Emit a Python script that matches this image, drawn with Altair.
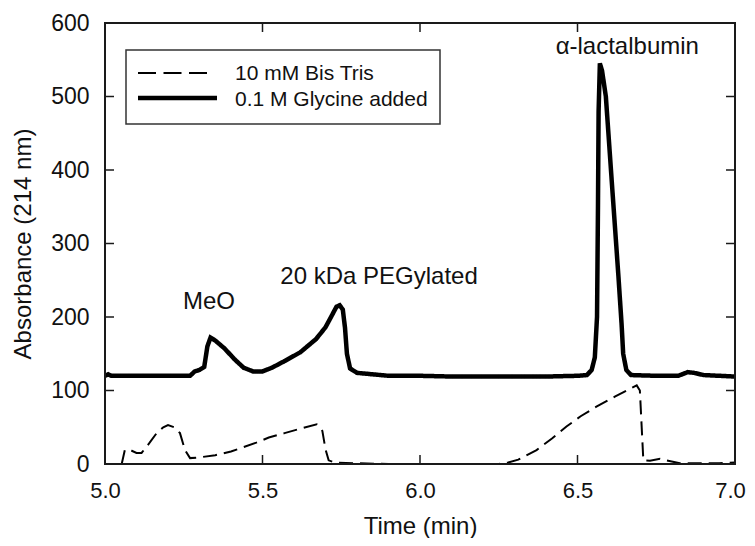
import altair as alt
import pandas as pd

# Solid line: 0.1 M Glycine added
gly_t = [5.00, 5.01, 5.02, 5.10, 5.20, 5.27, 5.285, 5.30, 5.315, 5.325, 5.335, 5.35, 5.38, 5.41, 5.44, 5.47,
         5.50, 5.53, 5.57, 5.62, 5.67, 5.70, 5.72, 5.735, 5.745, 5.755, 5.762, 5.768, 5.778, 5.80, 5.85, 5.90,
         6.00, 6.10, 6.20, 6.30, 6.40, 6.50, 6.53, 6.545, 6.555, 6.562, 6.565, 6.567, 6.571, 6.578, 6.59,
         6.61, 6.63, 6.64, 6.645, 6.655, 6.67, 6.75, 6.82, 6.85, 6.87, 6.90, 6.95, 7.00]
gly_v = [120, 122, 120, 120, 120, 120, 126, 128, 132, 160, 172, 168, 157, 143, 131, 126,
         126, 131, 140, 152, 170, 186, 202, 214, 216, 210, 185, 150, 130, 124, 122, 120,
         120, 119, 119, 119, 119, 120, 121, 128, 145, 200, 350, 480, 545, 535, 500,
         377, 255, 190, 150, 128, 121, 120, 120, 125, 124, 121, 120, 119]

# Dashed line: 10 mM Bis Tris
bis_t = [5.053, 5.063, 5.07, 5.085, 5.10, 5.116, 5.14, 5.164, 5.185, 5.20, 5.22, 5.238, 5.254, 5.27, 5.30,
         5.35, 5.40, 5.44, 5.48, 5.52, 5.57, 5.62, 5.672, 5.69, 5.70, 5.71, 5.73, 5.80, 5.90, 6.00, 6.10,
         6.20, 6.25, 6.28, 6.312, 6.37, 6.42, 6.465, 6.51, 6.56, 6.62, 6.688, 6.698, 6.709, 6.73, 6.762,
         6.78, 6.825, 6.90, 6.95, 7.00]
bis_v = [0, 19, 20, 18, 15, 15, 28, 42, 50, 53, 50, 42, 19, 8, 9,
         12, 17, 23, 29, 36, 42, 48, 54, 45, 20, 5, 2, 1, 0, 0, 0,
         0, 0, 2, 6, 19, 35, 51, 65, 78, 92, 107, 100, 5, 4.5, 7,
         5, 1, 1, 1, 2]

series_names = ["10 mM Bis Tris", "0.1 M Glycine added"]

X_MIN, X_MAX = 5.0, 7.0
Y_MIN, Y_MAX = 0, 600
x_labels = [5.0, 5.5, 6.0, 6.5, 7.0]
y_labels = [0, 100, 200, 300, 400, 500, 600]
x_ticks = [5.5, 6.0, 6.5]
y_ticks = [100, 200, 300, 400, 500]

ann_text = ["MeO", "20 kDa PEGylated", "α-lactalbumin"]
ann_t = [5.33, 5.87, 6.658]
ann_v = [221, 254, 567]

df = pd.concat([
    pd.DataFrame({"t": bis_t, "v": bis_v, "series": series_names[0], "o": range(len(bis_t))}),
    pd.DataFrame({"t": gly_t, "v": gly_v, "series": series_names[1], "o": range(len(gly_t))}),
])

FONT = "Liberation Sans"
INK = "#111"
EDGE = "#1a1a1a"
W, H = 630, 441
DASH = [14, 7]
PX_X = (X_MAX - X_MIN) / W   # one pixel in data units
PX_Y = (Y_MAX - Y_MIN) / H
TL = 9        # tick length, px
LW = 2        # frame / tick thickness, px

# frame edges and inward ticks as thin filled rectangles, in data units
seg_x0, seg_x1, seg_y0, seg_y1 = [], [], [], []
def seg(x0, x1, y0, y1):
    seg_x0.append(x0); seg_x1.append(x1); seg_y0.append(y0); seg_y1.append(y1)

hx, hy = LW / 2 * PX_X, LW / 2 * PX_Y
seg(X_MIN - hx, X_MAX + hx, Y_MAX - hy, Y_MAX + hy)   # top
seg(X_MIN - hx, X_MAX + hx, Y_MIN - hy, Y_MIN + hy)   # bottom
seg(X_MIN - hx, X_MIN + hx, Y_MIN - hy, Y_MAX + hy)   # left
seg(X_MAX - hx, X_MAX + hx, Y_MIN - hy, Y_MAX + hy)   # right
for t in x_ticks:
    seg(t - 0.75 * PX_X, t + 0.75 * PX_X, Y_MIN, Y_MIN + TL * PX_Y)
    seg(t - 0.75 * PX_X, t + 0.75 * PX_X, Y_MAX - TL * PX_Y, Y_MAX)
for v in y_ticks:
    seg(X_MIN, X_MIN + TL * PX_X, v - 0.75 * PX_Y, v + 0.75 * PX_Y)
    seg(X_MAX - TL * PX_X, X_MAX, v - 0.75 * PX_Y, v + 0.75 * PX_Y)
segs = pd.DataFrame({"x0": seg_x0, "x1": seg_x1, "y0": seg_y0, "y1": seg_y1})

xs = alt.Scale(domain=[X_MIN, X_MAX], nice=False, zero=False)
ys = alt.Scale(domain=[Y_MIN, Y_MAX], nice=False)

lines = alt.Chart(df).mark_line(color="black").encode(
    x=alt.X("t:Q", scale=xs, title="Time (min)",
            axis=alt.Axis(values=x_labels, format=".1f", ticks=False, domain=False, grid=False,
                          labelFlush=False, labelPadding=16, titlePadding=13, labelFontSize=22,
                          labelOffset=alt.expr("datum.value == 7 ? -5 : 0"))),
    y=alt.Y("v:Q", scale=ys, title="Absorbance (214 nm)",
            axis=alt.Axis(values=y_labels, ticks=False, domain=False, grid=False,
                          labelFlush=False, labelPadding=16, titlePadding=15)),
    order="o:Q",
    strokeDash=alt.StrokeDash("series:N",
                              scale=alt.Scale(domain=series_names, range=[DASH, [1, 0]]),
                              legend=None),
    strokeWidth=alt.StrokeWidth("series:N",
                                scale=alt.Scale(domain=series_names, range=[2, 4.5]),
                                legend=None),
)

frame = alt.Chart(segs).mark_rect(color=EDGE, opacity=1).encode(
    x=alt.X("x0:Q", scale=xs), x2="x1:Q",
    y=alt.Y("y0:Q", scale=ys), y2="y1:Q")

ann = alt.Chart(pd.DataFrame({"label": ann_text, "t": ann_t, "v": ann_v})).mark_text(
    font=FONT, fontSize=24, color=INK, align="center", baseline="middle").encode(
    x=alt.X("t:Q", scale=xs), y=alt.Y("v:Q", scale=ys), text="label:N")

one = pd.DataFrame({"k": [0]})
leg_box = alt.Chart(one).mark_rect(fill="white", stroke="#333", strokeWidth=1.5).encode(
    x=alt.value(21), x2=alt.value(335), y=alt.value(27), y2=alt.value(101))
leg_dash = alt.Chart(one).mark_rule(color="black", strokeWidth=2, strokeDash=[18, 7.5]).encode(
    x=alt.value(33), x2=alt.value(103), y=alt.value(50))
leg_solid = alt.Chart(one).mark_rule(color="black", strokeWidth=4.5).encode(
    x=alt.value(33), x2=alt.value(112), y=alt.value(75))
leg_text1 = alt.Chart(pd.DataFrame({"label": [series_names[0]]})).mark_text(
    font=FONT, fontSize=21, color=INK, align="left", baseline="middle").encode(
    x=alt.value(130), y=alt.value(51), text="label:N")
leg_text2 = alt.Chart(pd.DataFrame({"label": [series_names[1]]})).mark_text(
    font=FONT, fontSize=21, color=INK, align="left", baseline="middle").encode(
    x=alt.value(130), y=alt.value(77), text="label:N")

chart = alt.layer(lines, frame, ann,
                  leg_box, leg_dash, leg_solid, leg_text1, leg_text2).properties(
    width=W, height=H,
    autosize=alt.AutoSizeParams(type="none"),
    padding={"left": 97, "top": 15, "right": 12, "bottom": 74},
).configure_view(stroke=None).configure_axis(
    labelFont=FONT, titleFont=FONT, labelFontSize=23, titleFontSize=24,
    labelColor=INK, titleColor=INK, titleFontWeight="normal",
)

chart.save("out.html", embed_options={"renderer": "svg", "actions": False})
